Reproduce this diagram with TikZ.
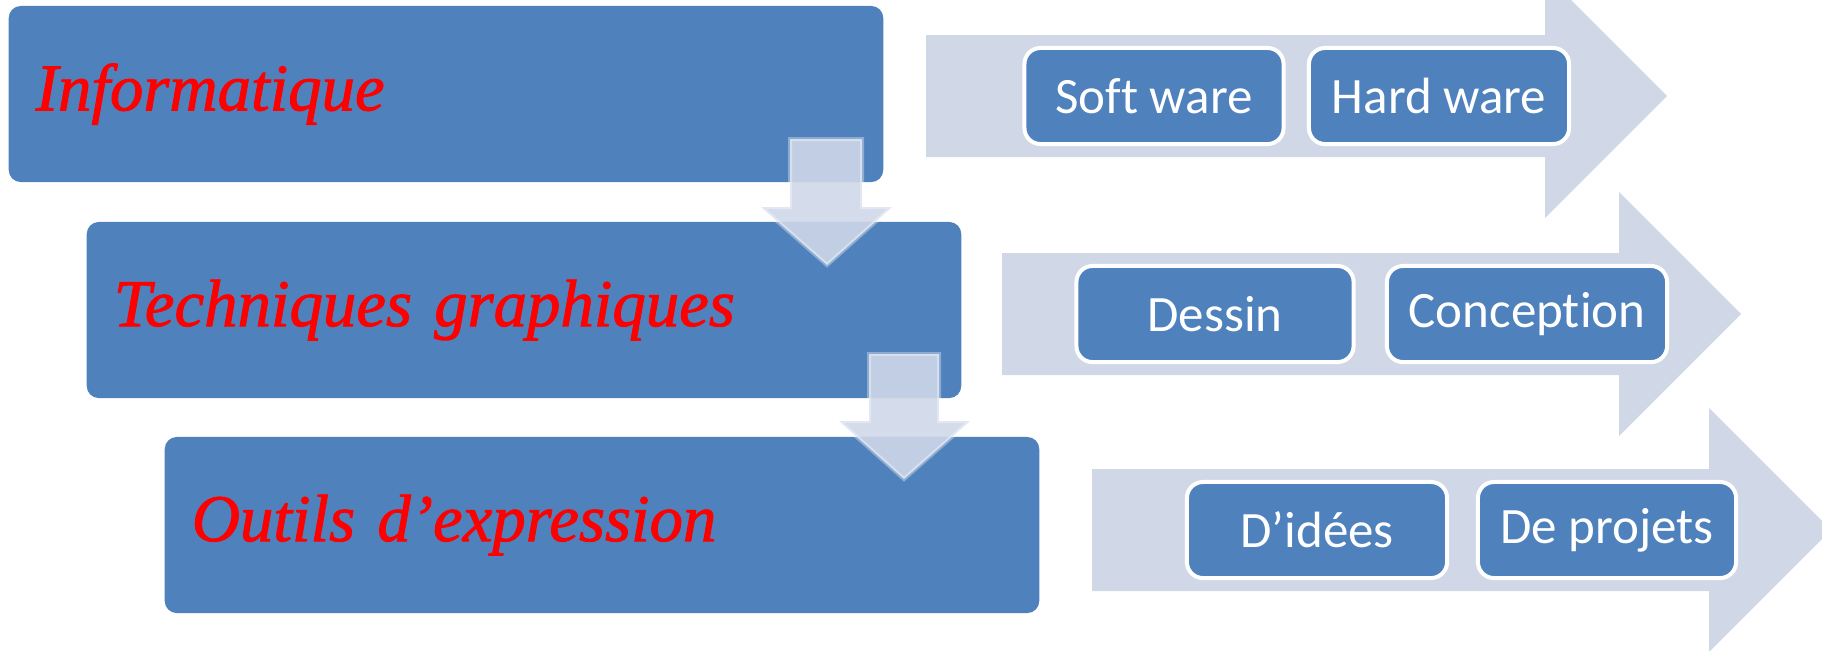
\documentclass[tikz,border=0pt]{standalone}
\usepackage{fontspec}
\setmainfont{Liberation Serif}
\newfontfamily\topicfont[FakeBold=1.3]{Liberation Serif}
\newfontfamily\itemfont[Ligatures=NoCommon]{Carlito}
\usepackage{tikz}

\definecolor{boxblue}{HTML}{4F81BD}
\definecolor{chevgray}{HTML}{D0D8E8}
\definecolor{downfill}{HTML}{CFD7E8}

\DeclareRobustCommand\topicstyle{%
    \topicfont\fontsize{19}{22}\selectfont\itshape
    \spaceskip=0.16em plus 0.05em\relax}

\tikzset{
    topicbox/.style={fill=boxblue, rounded corners=0.12cm, minimum height=1.76cm,
        text width=8.2cm, inner xsep=0.27cm, align=left, text=red,
        font=\topicstyle},
    itembox/.style={fill=boxblue, draw=white, line width=0.04cm, rounded corners=0.16cm,
        minimum height=0.96cm, text=white, font=\itemfont\fontsize{14.5}{16}\selectfont},
    chevron/.style={fill=chevgray, draw=none},
    downarrow/.style={fill=downfill, fill opacity=0.9, draw=white, draw opacity=0.35,
        line width=0.04cm}
}

\begin{document}
\begin{tikzpicture}[x=0.01cm, y=-0.01cm]
    \useasboundingbox (0,0) rectangle (1822,650);
    \clip (0,0) rectangle (1822,650);

    %chevrons
    \fill [chevron] (926,35) -- (1545,35) -- (1545,-26) -- (1667,96)
        -- (1545,218) -- (1545,157) -- (926,157) -- cycle;
    \fill [chevron] (1002,253) -- (1619,253) -- (1619,192) -- (1741,314)
        -- (1619,436) -- (1619,375) -- (1002,375) -- cycle;
    \fill [chevron] (1092,469) -- (1709,469) -- (1709,408) -- (1831,530)
        -- (1709,652) -- (1709,591) -- (1092,591) -- cycle;

    % body
    \node [topicbox] (info) at (446,94) {Informatique};
    \node [topicbox] (tech) at (524,310) {Techniques graphiques};
    \node [topicbox] (outils) at (602,525) {Outils d’expression};

    %down arrows
    \draw [downarrow] (790,139) -- (862,139) -- (862,207) -- (892,207)
        -- (827,265) -- (761,207) -- (790,207) -- cycle;
    \draw [downarrow] (869,354) -- (939,354) -- (939,421) -- (970,421)
        -- (904,479) -- (839,421) -- (869,421) -- cycle;

    % items
    \node [itembox, minimum width=2.59cm] (soft) at (1154,96) {Soft ware};
    \node [itembox, minimum width=2.60cm] (hard) at (1439,96) {Hard ware};

    \node [itembox, minimum width=2.77cm] (dessin) at (1215,314) {Dessin};
    \node [itembox, minimum width=2.80cm] (concep) at (1527,314) {Conception};

    \node [itembox, minimum width=2.60cm] (idees) at (1317,530) {D’idées};
    \node [itembox, minimum width=2.58cm] (projets) at (1607,530) {De projets};
\end{tikzpicture}
\end{document}
